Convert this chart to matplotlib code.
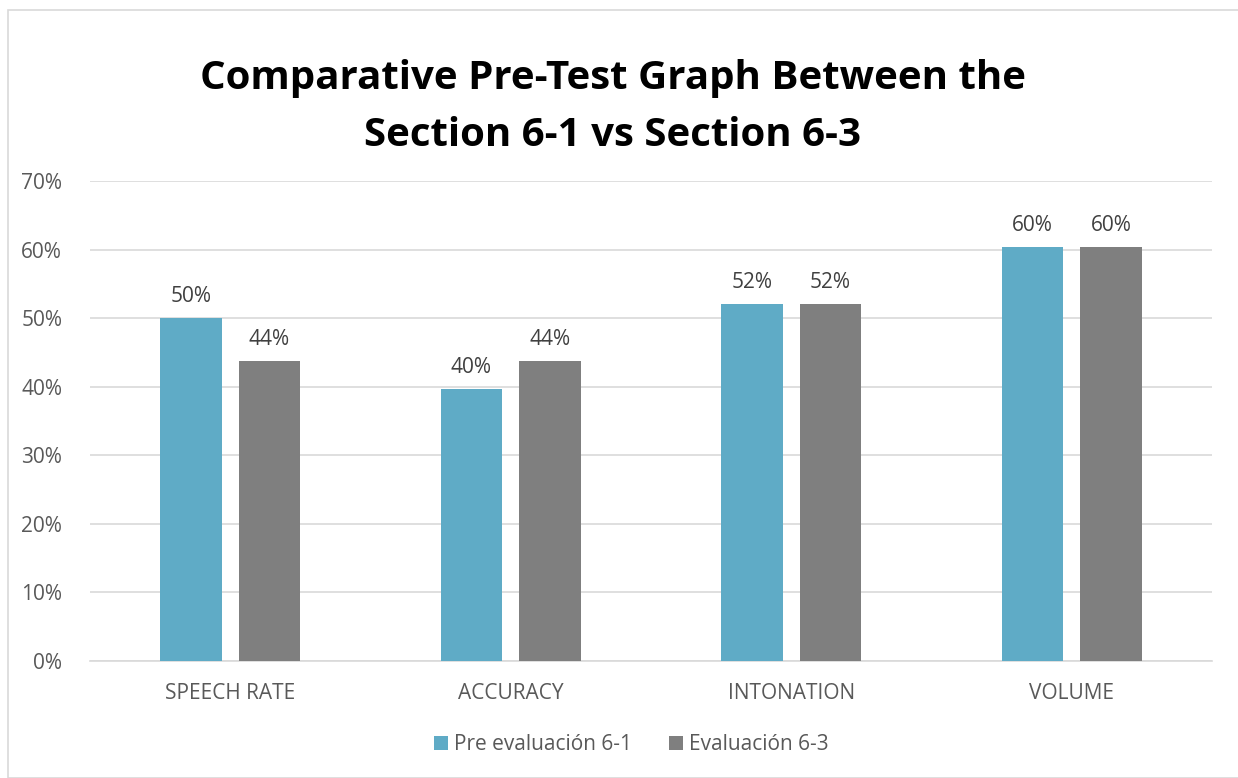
import numpy as np
import matplotlib.pyplot as plt
from matplotlib.patches import Rectangle

categories = ['SPEECH RATE', 'ACCURACY', 'INTONATION', 'VOLUME']
pre_61 = [0.500, 0.396, 0.521, 0.604]
eval_63 = [0.4375, 0.4375, 0.521, 0.604]
series_names = ['Pre evaluación 6-1', 'Evaluación 6-3']
colors = ['#5fabc6', '#7f7f7f']

plt.rcParams['font.family'] = ['Open Sans', 'DejaVu Sans']

fig = plt.figure(figsize=(12.38, 7.78), dpi=100)
ax = fig.add_axes([0.0727, 0.1504, 0.9063, 0.617])

x = np.arange(len(categories))
w = 0.22
off = 0.14
for vals, dx, c, name in [(pre_61, -off, colors[0], series_names[0]),
                          (eval_63, off, colors[1], series_names[1])]:
    bars = ax.bar(x + dx, vals, w, color=c, label=name, zorder=3)
    for b, v in zip(bars, vals):
        ax.text(b.get_x() + b.get_width() / 2, v + 0.016, '{:.0%}'.format(v),
                ha='center', va='bottom', fontsize=15, color='#404040')

ax.set_xlim(-0.5, 3.5)
ax.set_ylim(0, 0.7)
ax.set_yticks(np.arange(0, 0.71, 0.1))
ax.set_yticklabels(['{:.0%}'.format(t) for t in np.arange(0, 0.71, 0.1)])
ax.set_xticks(x)
ax.set_xticklabels(categories)
ax.tick_params(axis='both', length=0, labelsize=15, labelcolor='#595959')
ax.tick_params(axis='x', pad=16)
ax.tick_params(axis='y', pad=20)
ax.grid(axis='y', color='#d9d9d9', linewidth=1.2, zorder=0)
for s in ['top', 'right', 'left']:
    ax.spines[s].set_visible(False)
ax.spines['bottom'].set_color('#d9d9d9')
ax.spines['bottom'].set_linewidth(1.2)

fig.text(0.495, 0.862, 'Comparative Pre-Test Graph Between the\nSection 6-1 vs Section 6-3',
         ha='center', va='center', fontsize=29, fontweight='bold', color='black',
         linespacing=1.6)

leg = fig.legend(loc='center', bbox_to_anchor=(0.51, 0.043), ncol=2, frameon=False,
                 fontsize=15, handlelength=0.65, handleheight=0.65, columnspacing=1.8,
                 handletextpad=0.3)
for t in leg.get_texts():
    t.set_color('#595959')

fig.patches.append(Rectangle((8 / 1238, 0.0), 1.0, 1 - 10 / 778,
                             transform=fig.transFigure, fill=False,
                             edgecolor='#d9d9d9', linewidth=1.2))

fig.savefig('out.png', dpi=100)
